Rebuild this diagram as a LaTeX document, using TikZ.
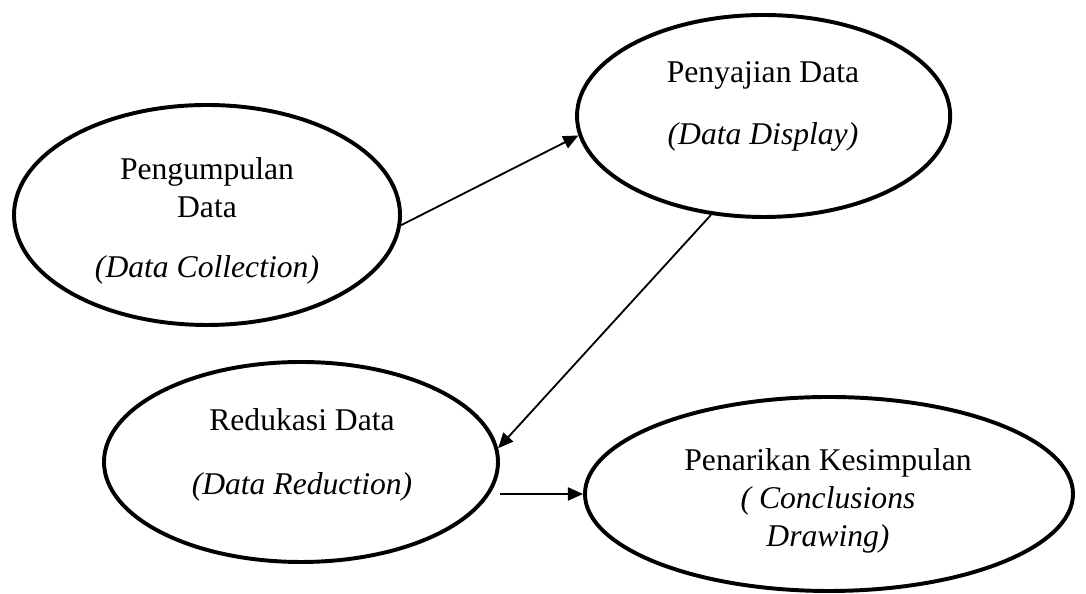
\documentclass[tikz,border=0pt]{standalone}
\usepackage{fontspec}
\setmainfont{Liberation Serif}
\usetikzlibrary{arrows.meta, calc, positioning, shapes.geometric}

\begin{document}
\begin{tikzpicture}[
    >={Triangle[length=3.8mm, width=3.3mm]},
    stage/.style={ellipse, draw=black, line width=2.8pt, inner sep=0pt},
    stagetxt/.style={font=\fontsize{22.5}{27}\selectfont, align=center},
    flow/.style={->, line width=1.3pt},
  ]

  % Frame
  \useasboundingbox (0,0) rectangle (27.15,14.85);

  % --- Stage ellipses ---
  \node[stage, minimum width=9.65cm, minimum height=5.5cm]  (e1) at (5.175, 9.475) {};
  \node[stage, minimum width=9.33cm, minimum height=5.05cm] (e2) at (19.09,11.95)  {};
  \node[stage, minimum width=9.85cm, minimum height=5.0cm]  (e3) at (7.525, 3.3)   {};
  \node[stage, minimum width=12.2cm, minimum height=4.85cm] (e4) at (20.725,2.5)   {};

  % --- Stage texts ---
  \node[stagetxt] (t1) at (5.175, 9.325) {Pengumpulan\\ Data\\[0.55cm] \textit{(Data Collection)}};
  \node[stagetxt] (t2) at (19.075,12.2)  {Penyajian Data\\[0.6cm] \textit{(Data Display)}};
  \node[stagetxt] (t3) at (7.55, 3.475)  {Redukasi Data\\[0.66cm] \textit{(Data Reduction)}};
  \node[stagetxt] (t4) at (20.7, 2.325)  {Penarikan Kesimpulan\\ \textit{( Conclusions}\\ \textit{Drawing)}};

  % --- Connectors ---
  \draw[flow] (e1.-3) -- (e2.186);
  \draw[flow] (e2.242) -- (e3.4);
  \draw[flow] (e3.east |- e4.west) -- (e4.west);

\end{tikzpicture}
\end{document}
